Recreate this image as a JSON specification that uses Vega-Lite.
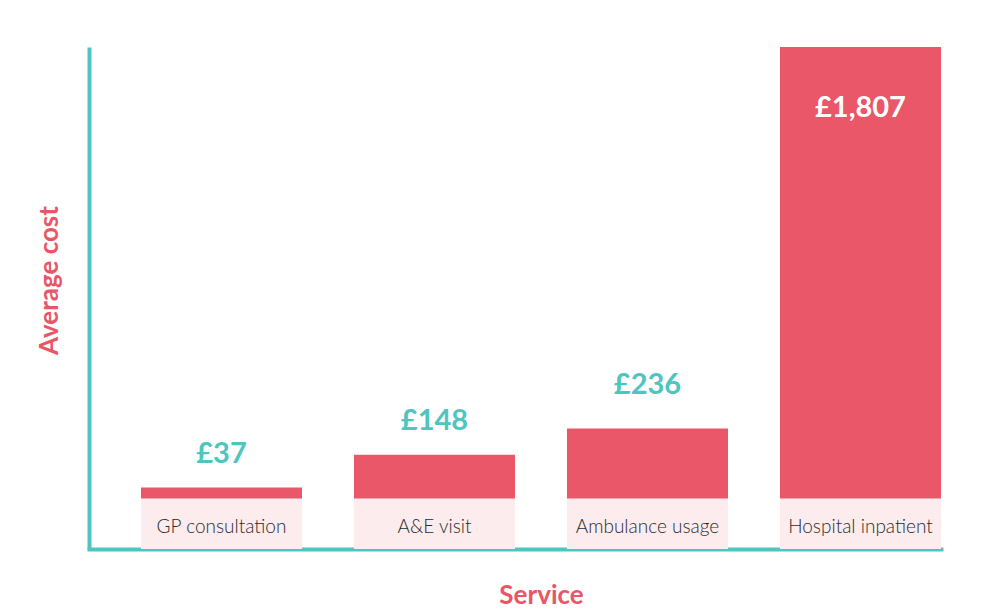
{
  "$schema": "https://vega.github.io/schema/vega-lite/v6.json",
  "width": 852,
  "height": 502,
  "autosize": {"type": "none"},
  "padding": {"left": 89, "top": 47, "right": 40, "bottom": 62},
  "background": "white",
  "config": {
    "view": {"stroke": null},
    "font": "Lato",
    "locale": {"number": {"decimal": ".", "thousands": ",", "grouping": [3], "currency": ["£", ""]}}
  },
  "data": {
    "values": [
      {"service": "GP consultation", "cost": 37},
      {"service": "A&E visit", "cost": 148},
      {"service": "Ambulance usage", "cost": 236},
      {"service": "Hospital inpatient", "cost": 1807}
    ]
  },
  "encoding": {
    "x": {
      "field": "service",
      "type": "nominal",
      "sort": null,
      "scale": {"paddingInner": 0.244, "paddingOuter": 0.122, "align": 1},
      "axis": {
        "title": "Service",
        "titleColor": "#E95666",
        "titleFont": "Lato",
        "titleFontSize": 26,
        "titleFontWeight": "bold",
        "titleX": 452,
        "titlePadding": 33,
        "labels": false,
        "ticks": false,
        "domainColor": "#4EC5BF",
        "domainWidth": 4,
        "domainCap": "square"
      }
    }
  },
  "layer": [
    {
      "mark": {"type": "bar", "color": "#FCECEE"},
      "encoding": {
        "y": {"datum": -170, "type": "quantitative", "scale": {"domain": [-170, 1522], "clamp": true, "nice": false, "zero": false},
          "axis": {
            "title": "Average cost",
            "titleColor": "#E95666",
            "titleFont": "Lato",
            "titleFontSize": 26,
            "titleFontWeight": "bold",
            "titleY": 233,
            "titlePadding": 27,
            "labels": false,
            "ticks": false,
            "grid": false,
            "domainColor": "#4EC5BF",
            "domainWidth": 4
          }},
        "y2": {"datum": 0}
      }
    },
    {
      "mark": {"type": "bar", "color": "#E95768"},
      "encoding": {
        "y": {"field": "cost", "type": "quantitative"},
        "y2": {"datum": 0}
      }
    },
    {
      "mark": {"type": "text", "baseline": "alphabetic", "dy": 34, "fontSize": 19, "fontWeight": 300, "color": "#2b2b2b"},
      "encoding": {
        "y": {"datum": 0, "type": "quantitative"},
        "text": {"field": "service"}
      }
    },
    {
      "transform": [{"filter": "datum.cost < 200"}],
      "mark": {"type": "text", "baseline": "alphabetic", "dy": -25, "fontSize": 29, "fontWeight": "bold", "color": "#4EC5BF"},
      "encoding": {
        "y": {"field": "cost", "type": "quantitative"},
        "text": {"field": "cost", "type": "quantitative", "format": "$,"}
      }
    },
    {
      "transform": [{"filter": "datum.cost >= 200 && datum.cost < 1000"}],
      "mark": {"type": "text", "baseline": "alphabetic", "dy": -35, "fontSize": 29, "fontWeight": "bold", "color": "#4EC5BF"},
      "encoding": {
        "y": {"field": "cost", "type": "quantitative"},
        "text": {"field": "cost", "type": "quantitative", "format": "$,"}
      }
    },
    {
      "transform": [{"filter": "datum.cost >= 1000"}],
      "mark": {"type": "text", "baseline": "alphabetic", "dy": 70, "fontSize": 29, "fontWeight": "bold", "color": "white"},
      "encoding": {
        "y": {"field": "cost", "type": "quantitative"},
        "text": {"field": "cost", "type": "quantitative", "format": "$,"}
      }
    }
  ]
}
